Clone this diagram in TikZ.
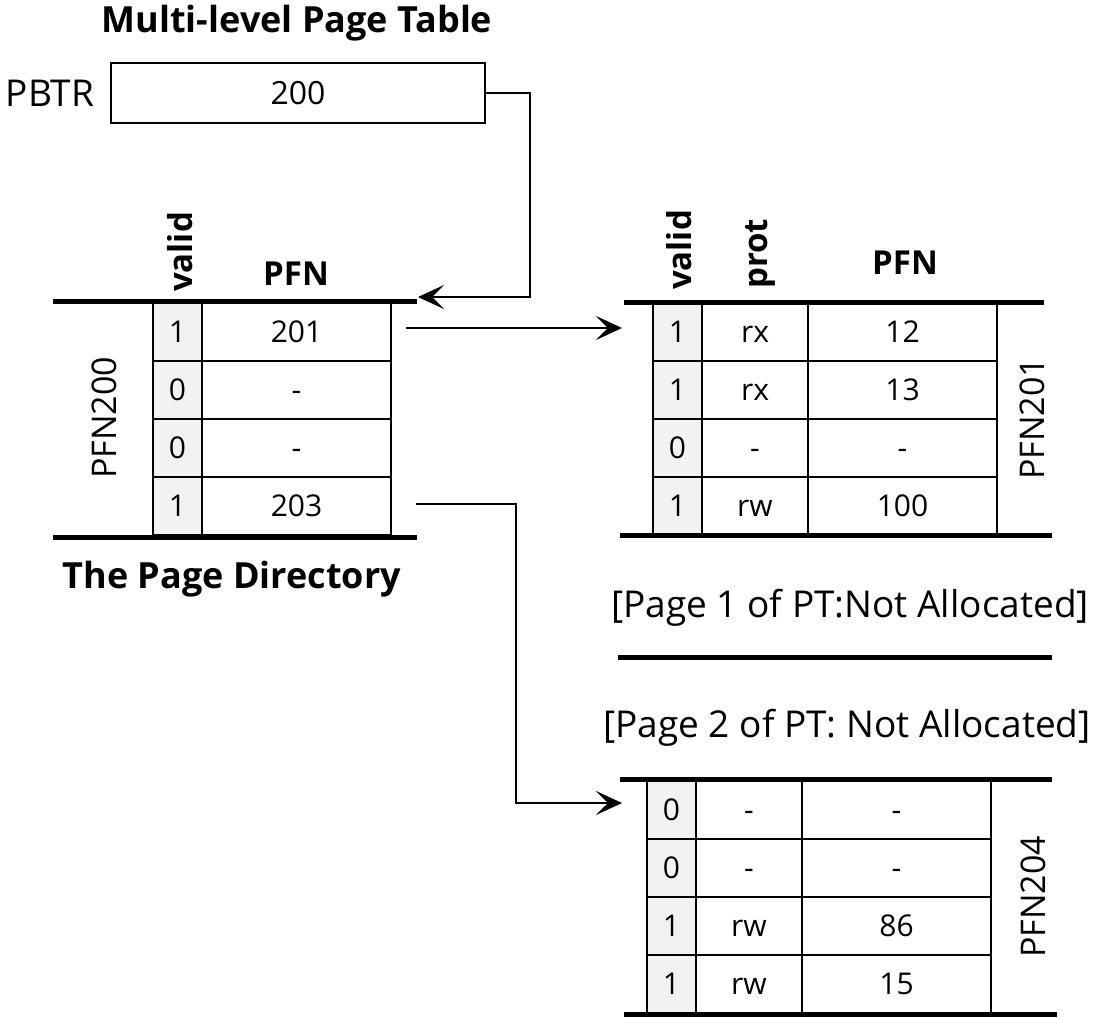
\documentclass[tikz,border=0pt]{standalone}
\usepackage{fontspec}
\setmainfont{Open Sans}
\usepackage{tikz}
\usetikzlibrary{arrows.meta,positioning}
\definecolor{validgray}{RGB}{242,242,242}

\begin{document}
\begin{tikzpicture}[x=1pt, y=-1pt, >={Stealth[length=26pt,width=24pt,inset=12pt]}]
	\tikzstyle{cell} = [draw, line width=2.2pt, outer sep=0pt, inner sep=0pt, minimum height=58pt, text height=21pt, text depth=0pt, font=\fontsize{30}{30}\selectfont]
	\tikzstyle{vcell} = [cell, fill=validgray, minimum width=49pt]
	\tikzstyle{pcell} = [cell, minimum width=106pt]
	\tikzstyle{fcell} = [cell, minimum width=189pt]
	\tikzstyle{thickbar} = [line width=5pt]
	\tikzstyle{conn} = [line width=2.3pt, ->]
	\tikzstyle{colhead} = [font=\bfseries\fontsize{33}{33}\selectfont, inner sep=0pt]
	\tikzstyle{sidelabel} = [font=\fontsize{34}{34}\selectfont, rotate=90, inner sep=0pt]
	\tikzstyle{bigbold} = [font=\bfseries\fontsize{36}{36}\selectfont, inner sep=0pt, anchor=base]
	\tikzstyle{ptext} = [font=\fontsize{37}{37}\selectfont, inner sep=0pt, anchor=base]

	\useasboundingbox (0,0) rectangle (1098,1019);

	% register
	\node[bigbold] (mlpt) at (297,33) {Multi-level Page Table};
	\node[ptext] (pbtrlbl) at (50,107) {PBTR};
	\node[draw, line width=2.3pt, minimum width=374pt, minimum height=60pt, font=\fontsize{32}{32}\selectfont] (pbtr) at (298,93) {200};

	% page directory
	\node[vcell] (pd1v) at (177.5,332) {1};
	\node[fcell, right=0pt of pd1v] (pd1f) {201};
	\node[vcell, below=0pt of pd1v] (pd2v) {0};
	\node[fcell, right=0pt of pd2v] (pd2f) {-};
	\node[vcell, below=0pt of pd2v] (pd3v) {0};
	\node[fcell, right=0pt of pd3v] (pd3f) {-};
	\node[vcell, below=0pt of pd3v] (pd4v) {1};
	\node[fcell, right=0pt of pd4v] (pd4f) {203};
	\draw[thickbar] (53,301) -- (417,301);
	\draw[thickbar] (53,537) -- (417,537);
	\node[colhead, rotate=90, anchor=west] (pdvalid) at (180,292) {valid};
	\node[colhead, anchor=base] (pdpfn) at (296,285) {PFN};
	\node[sidelabel] (pdname) at (104,418) {PFN200};
	\node[bigbold] (pdcap) at (232,588) {The Page Directory};

	% page of PT at PFN 201
	\node[vcell] (pa1v) at (677.5,332) {1};
	\node[pcell, right=0pt of pa1v] (pa1p) {rx};
	\node[fcell, right=0pt of pa1p] (pa1f) {12};
	\node[vcell, below=0pt of pa1v] (pa2v) {1};
	\node[pcell, right=0pt of pa2v] (pa2p) {rx};
	\node[fcell, right=0pt of pa2p] (pa2f) {13};
	\node[vcell, below=0pt of pa2v] (pa3v) {0};
	\node[pcell, right=0pt of pa3v] (pa3p) {-};
	\node[fcell, right=0pt of pa3p] (pa3f) {-};
	\node[vcell, below=0pt of pa3v] (pa4v) {1};
	\node[pcell, right=0pt of pa4v] (pa4p) {rw};
	\node[fcell, right=0pt of pa4p] (pa4f) {100};
	\draw[thickbar] (624,302) -- (1044,302);
	\draw[thickbar] (620,535) -- (1052,535);
	\node[colhead, rotate=90, anchor=west] (pavalid) at (679,290) {valid};
	\node[colhead, rotate=90, anchor=west] (paprot) at (761,289) {prot};
	\node[colhead, anchor=base] (papfn) at (905,275) {PFN};
	\node[sidelabel] (paname) at (1032,419) {PFN201};

	% pages 1 and 2 not allocated
	\node[ptext] (np1) at (850,617) {[Page 1 of PT:Not Allocated]};
	\draw[thickbar] (618,657) -- (1052,657);
	\node[ptext] (np2) at (847,737) {[Page 2 of PT: Not Allocated]};

	% page of PT at PFN 204
	\node[vcell] (pb1v) at (671.5,810) {0};
	\node[pcell, right=0pt of pb1v] (pb1p) {-};
	\node[fcell, right=0pt of pb1p] (pb1f) {-};
	\node[vcell, below=0pt of pb1v] (pb2v) {0};
	\node[pcell, right=0pt of pb2v] (pb2p) {-};
	\node[fcell, right=0pt of pb2p] (pb2f) {-};
	\node[vcell, below=0pt of pb2v] (pb3v) {1};
	\node[pcell, right=0pt of pb3v] (pb3p) {rw};
	\node[fcell, right=0pt of pb3p] (pb3f) {86};
	\node[vcell, below=0pt of pb3v] (pb4v) {1};
	\node[pcell, right=0pt of pb4v] (pb4p) {rw};
	\node[fcell, right=0pt of pb4p] (pb4f) {15};
	\draw[thickbar] (620,779) -- (1052,779);
	\draw[thickbar] (624,1014) -- (1057,1014);
	\node[sidelabel] (pbname) at (1033,897) {PFN204};

	% pointers
	\coordinate (pdin) at (418,297);
	\draw[conn] (pbtr.east) -- ++(44,0) |- (pdin);
	\draw[conn] ([xshift=15pt,yshift=4pt]pd1f.east) -- ([xshift=-31pt,yshift=4pt]pa1v.west);
	\draw[conn] ([xshift=25pt,yshift=2pt]pd4f.east) -- ++(100,0) |- ([xshift=-25pt,yshift=7pt]pb1v.west);
\end{tikzpicture}
\end{document}
